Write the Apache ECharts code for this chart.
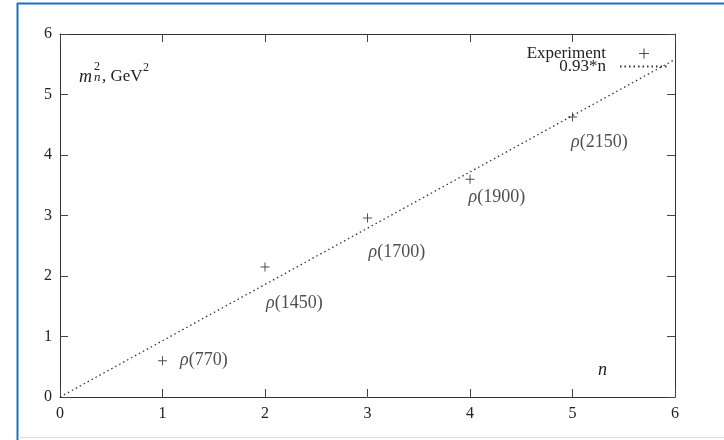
<!DOCTYPE html>
<html>
<head>
<meta charset="utf-8">
<script src="https://cdn.jsdelivr.net/npm/echarts@6/dist/echarts.min.js"></script>
<style>
  html, body { margin: 0; padding: 0; background: #fff; }
  #chart { width: 724px; height: 440px; }
</style>
</head>
<body>
<div id="chart"></div>
<script>
// Regge trajectory of the rho family: squared masses versus radial number n
const stateNames = ['770', '1450', '1700', '1900', '2150'];
const nValues = [1, 2, 3, 4, 5];
const massSquared = [0.60, 2.15, 2.96, 3.60, 4.63];
const fitSlope = 0.93;          // m_n^2 = 0.93*n
const fitRange = [0, 6];
const xTicks = [0, 1, 2, 3, 4, 5, 6];
const yTicks = [0, 1, 2, 3, 4, 5, 6];

const SERIF = '"Liberation Serif", "DejaVu Serif", serif';
const INK = '#222';

// label placement for each state, relative to the marker's box
const labelPlacement = [[22, 4.5], [5.5, 40.5], [5.5, 38.5], [3, 22.5], [3, 29.5]];

const expData = nValues.map((n, i) => ({
  value: [n, massSquared[i]],
  name: stateNames[i],
  label: { position: labelPlacement[i] }
}));
const fitData = fitRange.map(n => [n, fitSlope * n]);

const chart = echarts.init(document.getElementById('chart'), null, { renderer: 'canvas' });

const plusPath = 'path://M4,0h1v9h-1zM0,4h9v1h-9z';

const baseAxis = {
  type: 'value', min: 0, max: 6, interval: 1,
  axisLine: { show: true, onZero: false, lineStyle: { color: '#333', width: 1 } },
  axisTick: { show: true, inside: true, length: 8, lineStyle: { color: '#444' } },
  splitLine: { show: false }
};

chart.setOption({
  animation: false,
  backgroundColor: '#fff',
  grid: { left: 60, right: 49, top: 34, bottom: 43, containLabel: false },
  xAxis: [
    Object.assign({}, baseAxis, {
      position: 'bottom',
      axisLabel: { fontFamily: SERIF, fontSize: 16, color: INK, margin: 9,
        formatter: v => xTicks.includes(v) ? String(v) : '' }
    }),
    Object.assign({}, baseAxis, { position: 'top', axisLabel: { show: false } })
  ],
  yAxis: [
    Object.assign({}, baseAxis, {
      position: 'left',
      axisLabel: { fontFamily: SERIF, fontSize: 16, color: INK, margin: 8,
        formatter: v => yTicks.includes(v) ? String(v) : '' }
    }),
    Object.assign({}, baseAxis, { position: 'right', axisLabel: { show: false } })
  ],
  legend: {
    orient: 'vertical',
    align: 'right',
    right: 50,
    top: 40,
    itemWidth: 48,
    itemHeight: 10,
    itemGap: -4,
    selectedMode: false,
    textStyle: { fontFamily: SERIF, fontSize: 17, color: INK, padding: [0, 9, 0, 0] },
    data: [
      { name: 'Experiment', icon: plusPath, itemStyle: { color: INK } },
      { name: '0.93*n', itemStyle: { opacity: 0 } }
    ]
  },
  series: [
    {
      name: 'Experiment',
      type: 'scatter',
      symbol: plusPath,
      symbolSize: 9,
      symbolKeepAspect: true,
      itemStyle: { color: INK },
      data: expData,
      label: {
        show: true,
        align: 'left',
        verticalAlign: 'middle',
        formatter: p => '{r|ρ}{t|(' + p.name + ')}',
        rich: {
          r: { fontFamily: SERIF, fontStyle: 'italic', fontSize: 18, color: INK },
          t: { fontFamily: SERIF, fontSize: 18, color: INK }
        }
      },
      z: 3
    },
    {
      name: '0.93*n',
      type: 'line',
      symbol: 'none',
      showSymbol: false,
      data: fitData,
      itemStyle: { color: '#333' },
      lineStyle: { color: '#333', width: 1.3, type: [1.5, 3] },
      z: 2
    }
  ],
  graphic: [
    // page frame
    { type: 'line', shape: { x1: 17.5, y1: 3, x2: 17.5, y2: 440 }, style: { stroke: '#1f6fc5', lineWidth: 2 } },
    { type: 'line', shape: { x1: 17, y1: 3.5, x2: 724, y2: 3.5 }, style: { stroke: '#1f6fc5', lineWidth: 2 } },
    { type: 'line', shape: { x1: 18, y1: 437.5, x2: 724, y2: 437.5 }, style: { stroke: '#dcdcdc', lineWidth: 1 } },
    // y-axis title: m_n^2, GeV^2
    {
      type: 'group', left: 79, top: 61,
      children: [
        { type: 'text', x: 0, y: 15, style: { text: 'm', font: 'italic 18px ' + SERIF, fill: INK, textVerticalAlign: 'alphabetic' } },
        { type: 'text', x: 15, y: 8, style: { text: '2', font: '12px ' + SERIF, fill: INK, textVerticalAlign: 'alphabetic' } },
        { type: 'text', x: 15, y: 18, style: { text: 'n', font: 'italic 13px ' + SERIF, fill: INK, textVerticalAlign: 'alphabetic' } },
        { type: 'text', x: 23, y: 15, style: { text: ', GeV', font: '17px ' + SERIF, fill: INK, textVerticalAlign: 'alphabetic' } },
        { type: 'text', x: 64, y: 9, style: { text: '2', font: '12px ' + SERIF, fill: INK, textVerticalAlign: 'alphabetic' } }
      ]
    },
    // x-axis title
    { type: 'text', left: 598, top: 361, style: { text: 'n', font: 'italic 18px ' + SERIF, fill: INK } }
  ]
});
</script>
</body>
</html>
